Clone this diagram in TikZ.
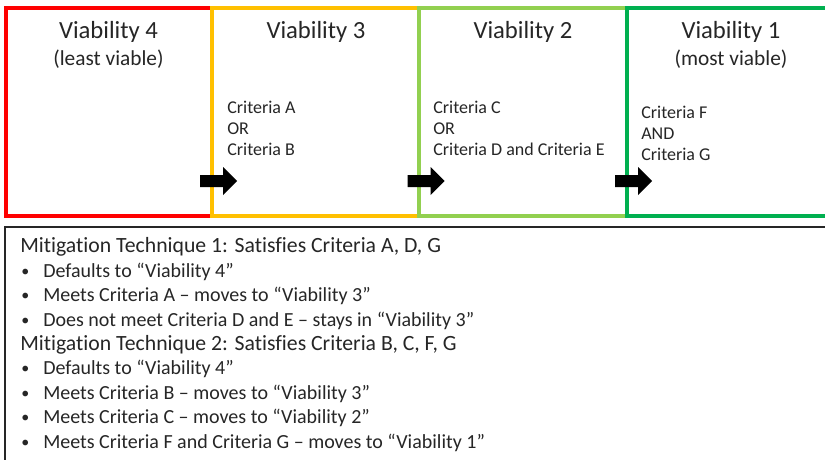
\documentclass[tikz,border=0pt]{standalone}
\usepackage{fontspec}
\setmainfont{Carlito}[Ligatures={TeX,NoCommon}]
\definecolor{vred}{HTML}{FF0000}
\definecolor{vyellow}{HTML}{FFC000}
\definecolor{vlgreen}{HTML}{92D050}
\definecolor{vgreen}{HTML}{00B050}
\definecolor{ink}{HTML}{262626}
\tikzset{
  box/.style={line width=2.3pt},
  title/.style={anchor=base, inner sep=0, text=ink, font=\fontsize{18.5}{22}\selectfont},
  subtitle/.style={anchor=base, inner sep=0, text=ink, font=\fontsize{16}{19}\selectfont},
  crit/.style={anchor=base west, align=left, inner sep=0, text=ink, font=\fontsize{13.5}{16.1}\selectfont},
  mitig/.style={anchor=base west, align=left, inner sep=0, text=ink, font=\fontsize{15}{18.3}\selectfont},
  blockarrow/.style={fill=black}
}
\newcommand\bul{\makebox[17.25pt][l]{\hspace{0.9pt}\raisebox{0.7pt}{\scalebox{0.8}{\textbullet}}}}
\newcommand\mhead[1]{{\fontsize{16.3}{18.3}\selectfont #1}}
\begin{document}
\begin{tikzpicture}[x=0.75pt,y=-0.75pt]
\useasboundingbox (0,0) rectangle (825,460);
\clip (0,0) rectangle (825,460);
\fill[white] (0,0) rectangle (825,460);
% viability boxes, left to right
\draw[box, vred] (6,8) rectangle (212,216);
\draw[box, vyellow] (212,8) rectangle (419,216);
\draw[box, vlgreen] (419,8) rectangle (627,216);
\draw[box, vgreen] (627,8) rectangle (835,216);
\node[title] (t4) at (108.5,39) {Viability 4};
\node[subtitle] (s4) at (108.5,65) {(least viable)};
\node[title] (t3) at (316,39) {Viability 3};
\node[title] (t2) at (523,39) {Viability 2};
\node[title] (t1) at (731,39) {Viability 1};
\node[subtitle] (s1) at (731,65) {(most viable)};
% base = last line of the node
\node[crit] (c3) at (227,156) {Criteria A\\OR\\Criteria B};
\node[crit] (c2) at (433,156) {Criteria C\\OR\\Criteria D and Criteria E};
\node[crit] (c1) at (641,161) {Criteria F\\AND\\Criteria G};
% arrows on the box borders
\foreach \x in {212,419.5,627}
  \fill[blockarrow] (\x-12,175) -- (\x+11,175) -- (\x+11,167) -- (\x+25,181)
    -- (\x+11,195) -- (\x+11,187) -- (\x-12,187) -- cycle;
% mitigation examples
\draw[line width=1.5pt, ink] (5,227) rectangle (840,475);
\node[mitig] (mt) at (20,448) {\mhead{Mitigation Technique 1: Satisfies Criteria A, D, G}\\
\bul Defaults to “Viability 4”\\
\bul Meets Criteria A – moves to “Viability 3”\\
\bul Does not meet Criteria D and E – stays in “Viability 3”\\
\mhead{Mitigation Technique 2: Satisfies Criteria B, C, F, G}\\
\bul Defaults to “Viability 4”\\
\bul Meets Criteria B – moves to “Viability 3”\\
\bul Meets Criteria C – moves to “Viability 2”\\
\bul Meets Criteria F and Criteria G – moves to “Viability 1”};
\end{tikzpicture}
\end{document}
